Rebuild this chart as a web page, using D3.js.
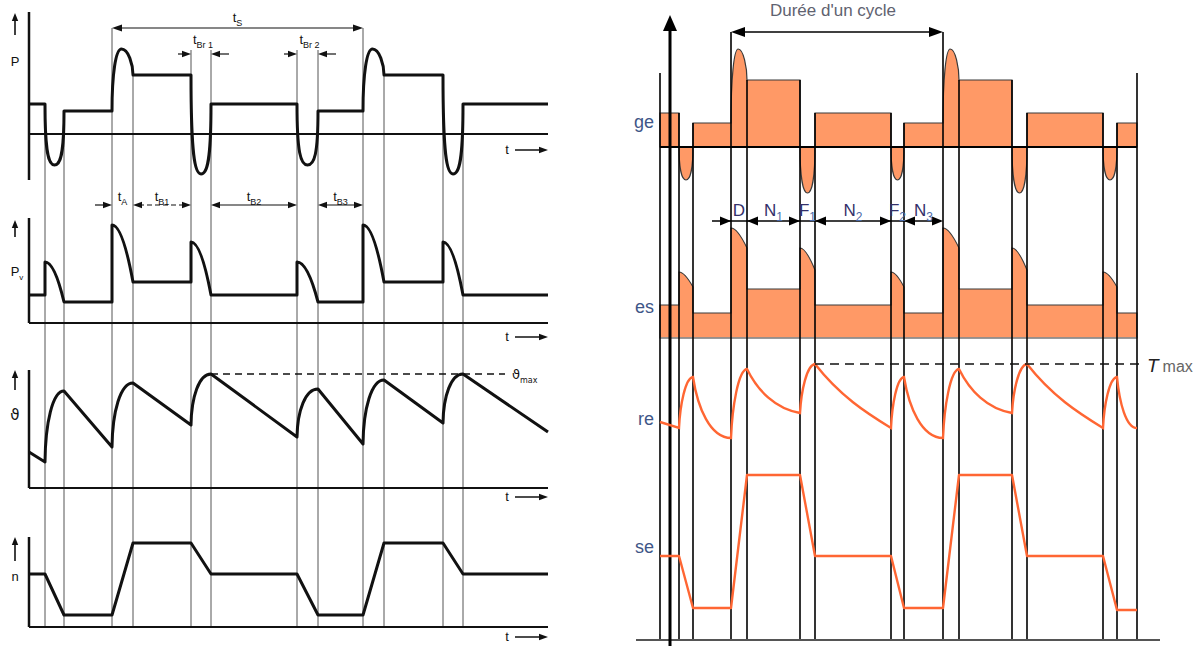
<!DOCTYPE html>
<html><head><meta charset="utf-8">
<script src="https://cdn.jsdelivr.net/npm/d3@7"></script>
<style>
body{margin:0;background:#fff}
svg{display:block}
text{font-family:"Liberation Sans",Arial,sans-serif}
</style>
</head><body>
<svg id="c" width="1203" height="646"></svg>
<script>
// ================= DATA : left diagram =================
// event instants (time units); plateaus span events[2j]..events[2j+1], transitions events[2k+1]..events[2k+2]
const leftEvents = [0, 1.6, 3.5, 8.3, 10.4, 16.2, 18.2, 26.8, 28.9, 33.4, 35.5, 41.4, 43.4, 51.9];
const leftPowerLevels = [3.0, 2.3, 5.9, 3.0, 2.3, 5.9, 3.0];
const leftPowerExtremes = [-3.1, 8.5, -4.0, -3.1, 8.5, -4.0];
const leftLossLevels = [2.8, 2.1, 4.1, 2.8, 2.1, 4.1, 2.8];
const leftLossPeaks = [6.1, 9.8, 8.1, 6.1, 9.8, 8.1];
const leftTempAtEvents = [3.6, 2.6, 9.7, 4.1, 10.5, 6.3, 11.4, 5.1, 9.9, 4.4, 10.8, 6.5, 11.4, 5.6];
const leftTempMax = 11.4;
const leftSpeedLevels = [5.3, 1.2, 8.4, 5.3, 1.2, 8.4, 5.3];
const leftAxisLabels = ["P", "P", "\u03D1", "n"];
const leftPhaseLabels = [["t","A"], ["t","B1"], ["t","B2"], ["t","B3"]];
const leftBrakeLabels = [["t","Br 1"], ["t","Br 2"]];
const leftCycleLabel = ["t","S"];

// ================= DATA : right diagram =================
const rightEvents = [0, 1.9, 3.3, 7.1, 8.7, 14.0, 15.5, 23.1, 24.4, 28.3, 29.9, 35.2, 36.7, 44.3, 45.7, 47.7];
const rightLoadLevels = [3.4, 2.4, 6.7, 3.4, 2.4, 6.7, 3.4, 2.4];
const rightLoadExtremes = [-3.3, 9.8, -4.6, -3.3, 9.8, -4.6, -3.3];
const rightLossLevels = [3.3, 2.5, 4.9, 3.3, 2.5, 4.9, 3.3, 2.5];
const rightLossPeaks = [6.6, 11.0, 9.0, 6.6, 11.0, 9.0, 6.6];
const rightLossEnds = [5.1, 9.0, 6.8, 5.1, 9.0, 6.8, 5.1];
const rightTempAtEvents = [7.8, 7.2, 12.3, 6.2, 13.1, 8.7, 13.6, 7.2, 12.3, 6.2, 13.1, 8.7, 13.6, 7.2, 12.3, 7.2];
const rightTempMax = 13.6;
const rightSpeedLevels = [8.4, 3.2, 16.5, 8.4, 3.2, 16.5, 8.4, 3.0];
const rightRowLabels = ["ge", "es", "re", "se"];
const rightPhaseLabels = [["D",""], ["N","1"], ["F","1"], ["N","2"], ["F","2"], ["N","3"]];
const rightCycleLabel = "Durée d'un cycle";

// ================= SCALES =================
const xL = d3.scaleLinear().domain([0, 51.9]).range([29, 548]);
const yP = d3.scaleLinear().domain([-4.6, 12.2]).range([180, 12]);
const yPv = d3.scaleLinear().domain([0, 10.5]).range([323, 218]);
const yTh = d3.scaleLinear().domain([0, 11.8]).range([488, 370]);
const yN = d3.scaleLinear().domain([0, 9.0]).range([627, 537]);

const xR = d3.scaleLinear().domain([0, 47.7]).range([660, 1137]);
const yC = d3.scaleLinear().domain([-4.6, 11.5]).range([193, 32]);
const yLo = d3.scaleLinear().domain([0, 11.0]).range([338, 228]);
const yT = d3.scaleLinear().domain([0, 14]).range([500, 360]);
const yS = d3.scaleLinear().domain([0, 16.5]).range([640, 475]);

const svg = d3.select("#c");
const INK = "#111";
const ORANGE_FILL = "#FF9966";
const ORANGE_LINE = "#FF6633";

// ================= HELPERS =================
function arrowHead(g, x, y, dir, len, half, color) {
  let pts;
  if (dir === "right") pts = [[x, y], [x - len, y - half], [x - len, y + half]];
  else if (dir === "left") pts = [[x, y], [x + len, y - half], [x + len, y + half]];
  else pts = [[x, y], [x - half, y + len], [x + half, y + len]];
  g.append("path").attr("d", d3.line()(pts) + "Z").attr("fill", color || INK);
}
function hline(g, x0, x1, y, w, color, dash) {
  const l = g.append("line").attr("x1", x0).attr("x2", x1).attr("y1", y).attr("y2", y)
    .attr("stroke", color || INK).attr("stroke-width", w);
  if (dash) l.attr("stroke-dasharray", dash);
  return l;
}
function vline(g, x, y0, y1, w, color) {
  return g.append("line").attr("x1", x).attr("x2", x).attr("y1", y0).attr("y2", y1)
    .attr("stroke", color || INK).attr("stroke-width", w);
}
function subText(g, x, y, main, sub, size, subSize, color, subColor, anchor) {
  const t = g.append("text").attr("x", x).attr("y", y).attr("text-anchor", anchor || "middle")
    .attr("font-size", size).attr("fill", color);
  t.append("tspan").text(main);
  if (sub) t.append("tspan").attr("dy", size * 0.28).attr("font-size", subSize).attr("fill", subColor || color).text(sub);
  return t;
}
function dipTo(p, xa, ya, xb, yb, ye, f) {
  const xm = (xa + xb) / 2;
  p.bezierCurveTo(xa, ya + f * (ye - ya), xm - 0.65 * (xm - xa), ye, xm, ye);
  p.bezierCurveTo(xm + 0.65 * (xb - xm), ye, xb, yb + f * (ye - yb), xb, yb);
}
function spikeTo(p, xa, ya, xb, yb, yp) {
  const xm = xa + 0.45 * (xb - xa);
  p.bezierCurveTo(xa, ya + 0.6 * (yp - ya), xm - 0.6 * (xm - xa), yp, xm, yp);
  p.bezierCurveTo(xm + 0.6 * (xb - xm), yp, xb, yp + 0.6 * (yb - yp), xb, yb);
}

// ================= LEFT DIAGRAM =================
const gL = svg.append("g");

// thin event lines
const E = leftEvents;
for (let idx = 1; idx < E.length - 1; idx++) {
  let top;
  if (idx % 2 === 1) {
    const k = (idx - 1) / 2;
    if (leftPowerExtremes[k] > 0) top = yP(10.6);
    else if (k === 2 || k === 3) top = yP(8.4);
    else top = yP(leftPowerLevels[k]);
  } else {
    const k = idx / 2 - 1;
    if (k === 2 || k === 3) top = yP(8.4);
    else top = yP(leftPowerLevels[idx / 2]);
  }
  vline(gL, xL(E[idx]), top, yN(0), 1, "#555");
}

// axes
vline(gL, xL(0), yP(12.2), yP(-4.6), 2.5);
hline(gL, xL(0), xL(51.9), yP(0), 2);
vline(gL, xL(0), yPv(10.5), yPv(0), 2.5);
hline(gL, xL(0), xL(51.9), yPv(0), 2);
vline(gL, xL(0), yTh(11.8), yTh(0), 2.5);
hline(gL, xL(0), xL(51.9), yTh(0), 2);
vline(gL, xL(0), yN(9.0), yN(0), 2.5);
hline(gL, xL(0), xL(51.9), yN(0), 2);

// y labels with up arrows
const axisLabelPos = [[yP, 12.1, 9.9, 6.8], [yPv, 10.3, 8.6, 4.7], [yTh, 11.8, 9.8, 6.8], [yN, 9.0, 6.6, 4.6]];
axisLabelPos.forEach((a, i) => {
  const [sc, tip, tail, lab] = a;
  const ax = 15;
  vline(gL, ax, sc(tail), sc(tip) + 6, 1.6);
  arrowHead(gL, ax, sc(tip), "up", 8, 3.2);
  if (i === 1) subText(gL, ax + 2, sc(lab), "P", "v", 13, 8, INK);
  else gL.append("text").attr("x", ax).attr("y", sc(lab)).attr("text-anchor", "middle")
    .attr("font-size", i === 2 ? 15 : 13).style("font-family", i === 2 ? "DejaVu Sans" : "Liberation Sans")
    .attr("fill", INK).text(leftAxisLabels[i]);
});

// "t ->" labels
[[yP, -1.6], [yPv, -1.4], [yTh, -0.9], [yN, -1.0]].forEach(([sc, v]) => {
  const y = sc(v);
  gL.append("text").attr("x", 507).attr("y", y + 4).attr("text-anchor", "middle").attr("font-size", 13).attr("fill", INK).text("t");
  hline(gL, 515, 540, y, 1.5);
  arrowHead(gL, 548, y, "right", 9, 3.2);
});

// power P
const pP = d3.path();
leftPowerLevels.forEach((lv, j) => {
  const x0 = xL(E[2 * j]), x1 = xL(E[2 * j + 1]), y = yP(lv);
  if (j === 0) pP.moveTo(x0, y); else pP.lineTo(x0, y);
  pP.lineTo(x1, y);
  if (j < leftPowerExtremes.length) {
    const xb = xL(E[2 * j + 2]), yb = yP(leftPowerLevels[j + 1]), ye = yP(leftPowerExtremes[j]);
    if (leftPowerExtremes[j] < 0) dipTo(pP, x1, y, xb, yb, ye, 0.8);
    else spikeTo(pP, x1, y, xb, yb, ye);
  }
});
gL.append("path").attr("d", pP.toString()).attr("fill", "none").attr("stroke", INK).attr("stroke-width", 3).attr("stroke-linejoin", "round");

// losses Pv
const pV = d3.path();
leftLossLevels.forEach((lv, j) => {
  const x0 = xL(E[2 * j]), x1 = xL(E[2 * j + 1]), y = yPv(lv);
  if (j === 0) pV.moveTo(x0, y); else pV.lineTo(x0, y);
  pV.lineTo(x1, y);
  if (j < leftLossPeaks.length) {
    const xb = xL(E[2 * j + 2]), yb = yPv(leftLossLevels[j + 1]), yp = yPv(leftLossPeaks[j]);
    pV.lineTo(x1, yp);
    pV.quadraticCurveTo(x1 + 0.5 * (xb - x1), yp, xb, yb);
  }
});
gL.append("path").attr("d", pV.toString()).attr("fill", "none").attr("stroke", INK).attr("stroke-width", 3).attr("stroke-linejoin", "round");

// temperature theta
const pTh = d3.path();
leftTempAtEvents.forEach((v, i) => {
  const x = xL(E[i]), y = yTh(v);
  if (i === 0) { pTh.moveTo(x, y); return; }
  const xa = xL(E[i - 1]), ya = yTh(leftTempAtEvents[i - 1]), w = x - xa, dy = y - ya;
  if (i % 2 === 1) pTh.lineTo(x, y);
  else pTh.bezierCurveTo(xa + 0.02 * w, ya + 0.55 * dy, xa + 0.4 * w, y, x, y);
});
gL.append("path").attr("d", pTh.toString()).attr("fill", "none").attr("stroke", INK).attr("stroke-width", 3).attr("stroke-linejoin", "round");

// theta max
hline(gL, xL(E[6]), 505, yTh(leftTempMax), 1.3, INK, "7,5");
subText(gL, 512, yTh(leftTempMax) + 5, "\u03D1", "max", 13, 8, INK, INK, "start").style("font-family", "DejaVu Sans");

// speed n
const nPts = [];
leftSpeedLevels.forEach((lv, j) => { nPts.push([E[2 * j], lv]); nPts.push([E[2 * j + 1], lv]); });
gL.append("path").attr("d", d3.line().x(d => xL(d[0])).y(d => yN(d[1]))(nPts))
  .attr("fill", "none").attr("stroke", INK).attr("stroke-width", 3).attr("stroke-linejoin", "round");

// annotations: t_S
const ts0 = xL(E[3]), ts1 = xL(E[9]), tsY = yP(10.6);
hline(gL, ts0 + 8, ts1 - 8, tsY, 1.2);
arrowHead(gL, ts0, tsY, "left", 10, 3.5);
arrowHead(gL, ts1, tsY, "right", 10, 3.5);
subText(gL, (ts0 + ts1) / 2, yP(11.2), leftCycleLabel[0], leftCycleLabel[1], 13, 9, INK);

// t_Br
leftBrakeLabels.forEach((lab, i) => {
  const k = i + 2;
  const xa = xL(E[2 * k + 1]), xb = xL(E[2 * k + 2]), y = yP(8.0);
  hline(gL, xa - 13, xa - 6, y, 1.2);
  arrowHead(gL, xa, y, "right", 9, 3.2);
  hline(gL, xb + 6, xb + 18, y, 1.2);
  arrowHead(gL, xb, y, "left", 9, 3.2);
  subText(gL, (xa + xb) / 2 + 2, yP(9.0), lab[0], lab[1], 13, 9, INK);
});

// t_A, t_B rows
const rowY = yPv(11.8);
{
  const xa = xL(E[3]);
  hline(gL, xa - 17, xa - 6, rowY, 1.2);
  arrowHead(gL, xa, rowY, "right", 9, 3.2);
  subText(gL, (xL(E[3]) + xL(E[4])) / 2, yPv(12.2), leftPhaseLabels[0][0], leftPhaseLabels[0][1], 13, 9, INK);
  [[4, 5], [6, 7], [8, 9]].forEach(([a, b], i) => {
    const x0 = xL(E[a]), x1 = xL(E[b]);
    hline(gL, x0 + 6, x1 - 6, rowY, 1.2, INK, i === 0 ? "5,3" : null);
    arrowHead(gL, x0, rowY, "left", 9, 3.2);
    arrowHead(gL, x1, rowY, "right", 9, 3.2);
    subText(gL, (x0 + x1) / 2, yPv(12.2), leftPhaseLabels[i + 1][0], leftPhaseLabels[i + 1][1], 13, 9, INK);
  });
}

// ================= RIGHT DIAGRAM =================
const gR = svg.append("g");
const R = rightEvents;

// load (charge) area
const pC = d3.path();
const baseC = yC(0);
pC.moveTo(xR(R[0]), baseC);
rightLoadLevels.forEach((lv, j) => {
  const x0 = xR(R[2 * j]), x1 = xR(R[2 * j + 1]), y = yC(lv);
  pC.lineTo(x0, y); pC.lineTo(x1, y);
  if (j < rightLoadExtremes.length) {
    const xb = xR(R[2 * j + 2]), ye = yC(rightLoadExtremes[j]);
    if (rightLoadExtremes[j] < 0) { pC.lineTo(x1, baseC); dipTo(pC, x1, baseC, xb, baseC, ye, 0.6); }
    else spikeTo(pC, x1, y, xb, yC(rightLoadLevels[j + 1]), ye);
  }
});
pC.lineTo(xR(R[R.length - 1]), baseC);
pC.closePath();
gR.append("path").attr("d", pC.toString()).attr("fill", ORANGE_FILL).attr("stroke", "#3a3a3a").attr("stroke-width", 1.2);

// losses area
const pLo = d3.path();
const baseL = yLo(0);
pLo.moveTo(xR(R[0]), baseL);
rightLossLevels.forEach((lv, j) => {
  const x0 = xR(R[2 * j]), x1 = xR(R[2 * j + 1]), y = yLo(lv);
  pLo.lineTo(x0, y); pLo.lineTo(x1, y);
  if (j < rightLossPeaks.length) {
    const xb = xR(R[2 * j + 2]), yp = yLo(rightLossPeaks[j]), ye = yLo(rightLossEnds[j]);
    pLo.lineTo(x1, yp);
    pLo.quadraticCurveTo(x1 + 0.4 * (xb - x1), yp, xb, ye);
  }
});
pLo.lineTo(xR(R[R.length - 1]), baseL);
pLo.closePath();
gR.append("path").attr("d", pLo.toString()).attr("fill", ORANGE_FILL).attr("stroke", "#3a3a3a").attr("stroke-width", 1.1);
hline(gR, xR(R[0]), xR(R[R.length - 1]), baseL, 1.5, "#9a9a9a");

// event lines
for (let idx = 0; idx < R.length; idx++) {
  let top;
  if (idx === 0 || idx === R.length - 1) top = yC(7.4);
  else if (idx % 2 === 1) {
    const k = (idx - 1) / 2;
    top = rightLoadExtremes[k] > 0 ? yC(11.5) : yC(rightLoadLevels[k]);
  } else top = yC(rightLoadLevels[idx / 2]);
  vline(gR, xR(R[idx]), top, yS(0), 1.6, "#000");
}
hline(gR, xR(R[0]), xR(R[R.length - 1]), baseC, 2, "#000");

// bottom baseline and main axis arrow
hline(gR, 636, 1160, yS(0), 2.2, "#555");
vline(gR, 670, 646, 28, 3, "#000");
arrowHead(gR, 670, 15, "up", 16, 7, "#000");

// temperature line
const pT = d3.path();
rightTempAtEvents.forEach((v, i) => {
  const x = xR(R[i]), y = yT(v);
  if (i === 0) { pT.moveTo(x, y); return; }
  const xa = xR(R[i - 1]), ya = yT(rightTempAtEvents[i - 1]), w = x - xa, dy = y - ya;
  if (i === 1) pT.lineTo(x, y);
  else if (i % 2 === 0) pT.bezierCurveTo(xa + 0.08 * w, ya + 0.45 * dy, xa + 0.45 * w, ya + 0.98 * dy, x, y);
  else {
    const k = Math.max(0, Math.min(1, (w - 38) / 38));
    pT.bezierCurveTo(xa + (0.12 + 0.21 * k) * w, ya + 0.5 * dy, xa + (0.45 + 0.22 * k) * w, ya + (1 - 0.24 * k) * dy, x, y);
  }
});
gR.append("path").attr("d", pT.toString()).attr("fill", "none").attr("stroke", ORANGE_LINE).attr("stroke-width", 2.4);

// T max
hline(gR, xR(R[6]), 1142, yT(rightTempMax), 1.6, "#111", "9,6");
{
  const t = gR.append("text").attr("x", 1147).attr("y", yT(rightTempMax) + 8).attr("fill", "#333");
  t.append("tspan").attr("font-size", 19).attr("font-style", "italic").attr("fill", "#222").text("T");
  t.append("tspan").attr("dx", 4).attr("font-size", 16).attr("fill", "#666").text("max");
}

// speed line
const sPts = [];
rightSpeedLevels.forEach((lv, j) => { sPts.push([R[2 * j], lv]); sPts.push([R[2 * j + 1], lv]); });
gR.append("path").attr("d", d3.line().x(d => xR(d[0])).y(d => yS(d[1]))(sPts))
  .attr("fill", "none").attr("stroke", ORANGE_LINE).attr("stroke-width", 2.4).attr("stroke-linejoin", "round");

// cycle arrow
const c0 = xR(R[3]), c1 = xR(R[9]), cY = yC(11.5);
hline(gR, c0 + 10, c1 - 10, cY, 1.4, "#000");
arrowHead(gR, c0, cY, "left", 14, 5, "#000");
arrowHead(gR, c1, cY, "right", 14, 5, "#000");
gR.append("text").attr("x", (c0 + c1) / 2 - 4).attr("y", 16).attr("text-anchor", "middle")
  .attr("font-size", 17).attr("fill", "#606270").text(rightCycleLabel);

// phase row (D, N1, F1, ...)
const prY = yLo(11.7);
hline(gR, xR(R[3]) - 19, xR(R[9]) - 6, prY, 1.4, "#000");
arrowHead(gR, xR(R[3]), prY, "right", 11, 4.5, "#000");
[[4, 5], [6, 7], [8, 9]].forEach(([a, b]) => {
  arrowHead(gR, xR(R[a]), prY, "left", 11, 4.5, "#000");
  arrowHead(gR, xR(R[b]), prY, "right", 11, 4.5, "#000");
});
rightPhaseLabels.forEach((lab, i) => {
  const x = (xR(R[3 + i]) + xR(R[4 + i])) / 2;
  subText(gR, x, yLo(12.2), lab[0], lab[1], 17, 12, "#34306a", "#4869a8");
});

// row label fragments
[[yC(1.9)], [yLo(2.5)], [yT(7.5)], [yS(8.7)]].forEach(([y], i) => {
  gR.append("text").attr("x", 654).attr("y", y).attr("text-anchor", "end")
    .attr("font-size", 18).attr("fill", "#3f5688").text(rightRowLabels[i]);
});
</script>
</body></html>
